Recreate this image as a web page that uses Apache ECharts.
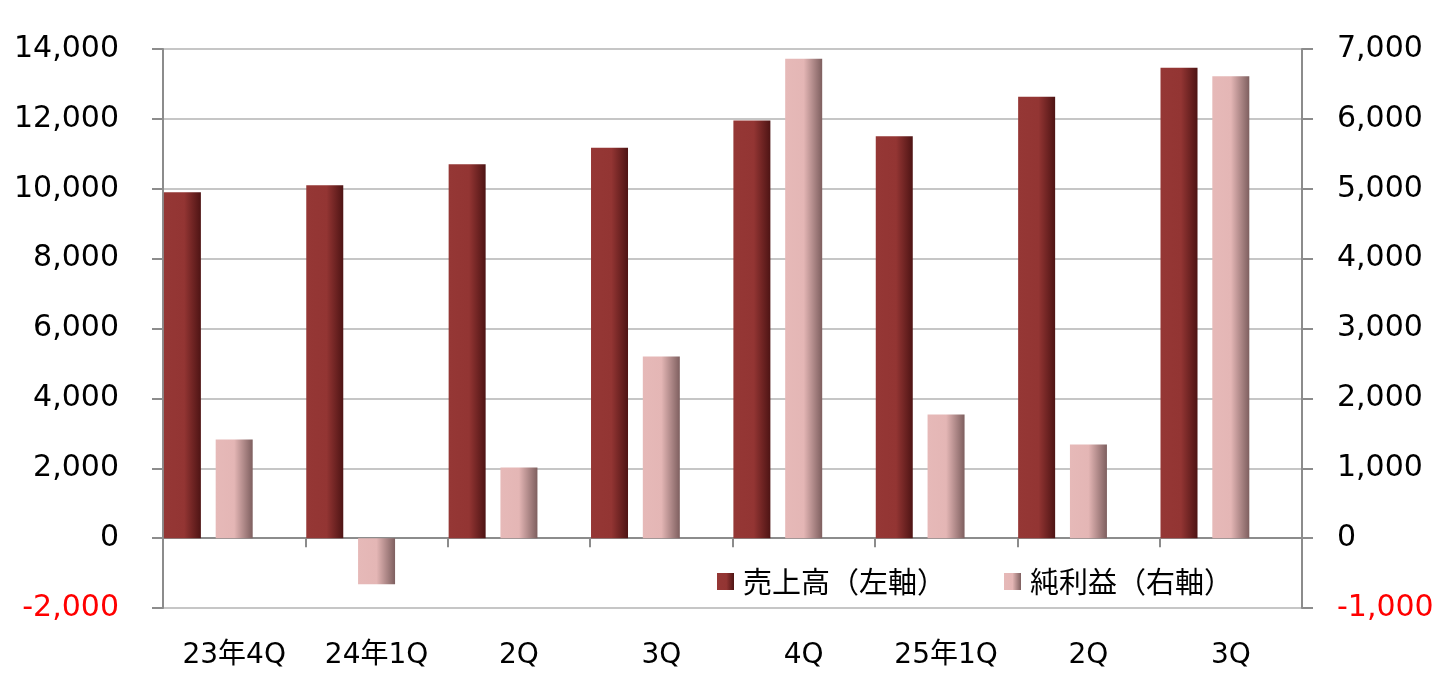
<!DOCTYPE html>
<html>
<head>
<meta charset="utf-8">
<script src="https://cdn.jsdelivr.net/npm/echarts@6/dist/echarts.min.js"></script>
<style>
  html, body { margin: 0; padding: 0; background: #fff; }
  #chart { width: 1456px; height: 691px; }
</style>
</head>
<body>
<div id="chart"></div>
<script>
// 四半期
const categories = ["23年4Q", "24年1Q", "2Q", "3Q", "4Q", "25年1Q", "2Q", "3Q"];
// 売上高（左軸）
const sales = [9900, 10100, 10700, 11170, 11950, 11500, 12630, 13460];
// 純利益（右軸）
const profit = [1410, -660, 1010, 2600, 6860, 1770, 1340, 6610];
const seriesNames = ["売上高（左軸）", "純利益（右軸）"];

const font = "'DejaVu Sans', 'Noto Sans CJK JP', sans-serif";
const axisGray = "#8c8c8c";

function fmt(v) {
  return v.toLocaleString("en-US");
}

const salesColor = new echarts.graphic.LinearGradient(0, 0, 1, 0, [
  { offset: 0, color: "#953735" },
  { offset: 0.55, color: "#933533" },
  { offset: 1, color: "#4e1414" }
]);
const profitColor = new echarts.graphic.LinearGradient(0, 0, 1, 0, [
  { offset: 0, color: "#e6b9b8" },
  { offset: 0.5, color: "#e4b6b5" },
  { offset: 1, color: "#7e5f5f" }
]);

const myChart = echarts.init(document.getElementById("chart"));
const option = {
  animation: false,
  textStyle: { fontFamily: font },
  grid: { left: 163, right: 154, top: 49, bottom: 83 },
  legend: {
    data: seriesNames,
    left: 712,
    top: 562,
    icon: "rect",
    itemWidth: 17,
    itemHeight: 17,
    itemGap: 58,
    textStyle: {
      fontSize: 29,
      color: "#000",
      padding: [0, 0, 0, 4],
      fontFamily: "'Noto Sans CJK JP', sans-serif"
    }
  },
  xAxis: [
    {
      type: "category",
      data: categories,
      position: "bottom",
      axisLine: { show: false, onZero: false },
      axisTick: { show: false },
      axisLabel: { fontSize: 28, color: "#000", margin: 34, fontFamily: font }
    },
    {
      type: "category",
      data: categories,
      position: "bottom",
      axisLine: { show: true, onZero: true, onZeroAxisIndex: 0, lineStyle: { color: axisGray, width: 2 } },
      axisTick: { show: true, length: 9, lineStyle: { color: axisGray, width: 2 } },
      axisLabel: { show: false }
    }
  ],
  yAxis: [
    {
      type: "value",
      min: -2000,
      max: 14000,
      interval: 2000,
      axisLine: { show: true, lineStyle: { color: axisGray, width: 2 } },
      axisTick: { show: true, length: 11, lineStyle: { color: axisGray, width: 2 } },
      splitLine: { lineStyle: { color: "#c6c6c6", width: 2 } },
      axisLabel: {
        fontSize: 30,
        margin: 44,
        formatter: v => fmt(v),
        color: v => (Number(v) < 0 ? "#ff0000" : "#000")
      }
    },
    {
      type: "value",
      min: -1000,
      max: 7000,
      interval: 1000,
      position: "right",
      axisLine: { show: true, lineStyle: { color: axisGray, width: 2 } },
      axisTick: { show: true, length: 11, lineStyle: { color: axisGray, width: 2 } },
      splitLine: { show: false },
      axisLabel: {
        fontSize: 30,
        margin: 35,
        formatter: v => fmt(v),
        color: v => (Number(v) < 0 ? "#ff0000" : "#000")
      }
    }
  ],
  series: [
    {
      name: seriesNames[0],
      type: "bar",
      yAxisIndex: 0,
      barWidth: 37,
      barGap: "40%",
      itemStyle: { color: salesColor },
      data: sales
    },
    {
      name: seriesNames[1],
      type: "bar",
      yAxisIndex: 1,
      barWidth: 37,
      barGap: "40%",
      itemStyle: { color: profitColor },
      data: profit
    },
    {
      // 空き系列（元グラフの配置合わせ）
      name: "blank",
      type: "bar",
      yAxisIndex: 0,
      barWidth: 37,
      barGap: "40%",
      data: []
    }
  ]
};
myChart.setOption(option);
</script>
</body>
</html>
